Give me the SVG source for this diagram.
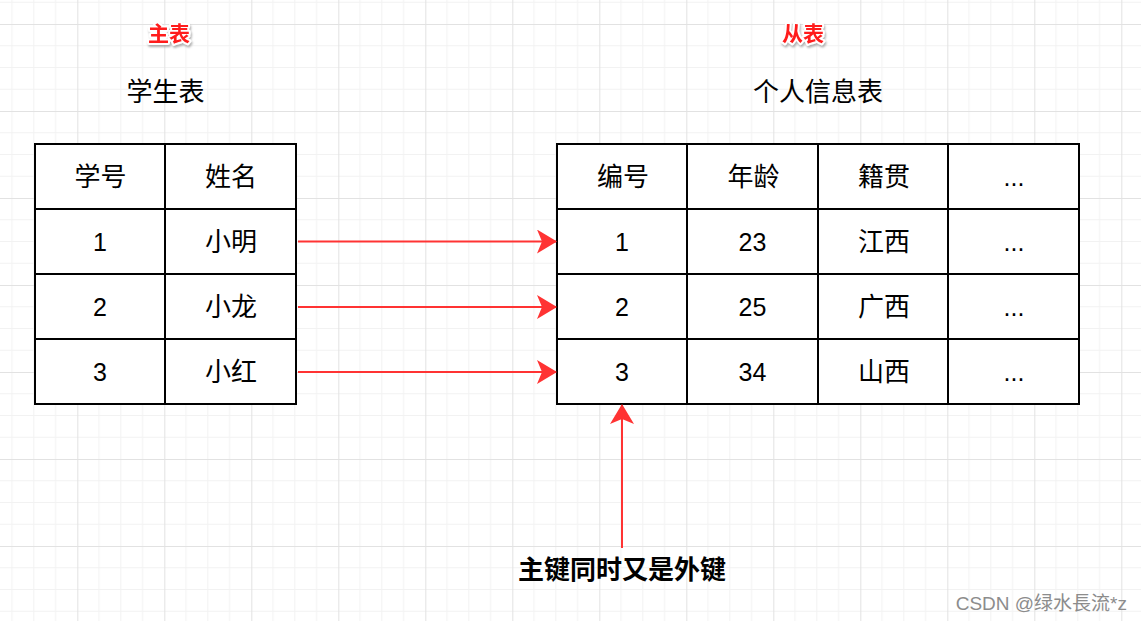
<svg xmlns="http://www.w3.org/2000/svg" width="1141" height="621" viewBox="0 0 1141 621">
<defs>
<pattern id="grid" x="77.3" y="24" width="87" height="87" patternUnits="userSpaceOnUse">
<path d="M21.75 0V87M43.5 0V87M65.25 0V87M0 21.75H87M0 43.5H87M0 65.25H87" stroke="#f2f2f2" stroke-width="1" fill="none"/>
<path d="M0.5 0V87M0 0.5H87" stroke="#e2e2e2" stroke-width="1" fill="none"/>
</pattern>
<marker id="ah" viewBox="0 0 20 24" refX="19" refY="12" markerWidth="20" markerHeight="24" markerUnits="userSpaceOnUse" orient="auto">
<path d="M0 0L20 12L0 24L5 12Z" fill="#ff3333"/>
</marker>
<filter id="sh" x="-20%" y="-20%" width="140%" height="160%">
<feDropShadow dx="1" dy="2" stdDeviation="0.8" flood-color="#999" flood-opacity="0.8"/>
</filter>
</defs>
<style>
text{font-family:"Liberation Sans","Noto Sans CJK SC",sans-serif;text-anchor:middle;dominant-baseline:central}
.cell{fill:#fff;stroke:#000;stroke-width:2}
.t{font-size:25px;fill:#000}
.h{font-size:26px;fill:#000}
.red{font-size:21px;font-weight:bold;fill:#ff1a1a;stroke:#fff;stroke-width:4;paint-order:stroke;stroke-linejoin:round}
.conn{stroke:#ff3333;stroke-width:2;fill:none;marker-end:url(#ah)}
</style>
<rect width="1141" height="621" fill="#fff"/>
<rect width="1141" height="621" fill="url(#grid)"/>

<g id="label-main"><text class="red" x="169" y="33" filter="url(#sh)">主表</text></g>
<g id="label-sub"><text class="red" x="803" y="33" filter="url(#sh)">从表</text></g>
<g id="title-student"><text class="h" x="165.5" y="92">学生表</text></g>
<g id="title-info"><text class="h" x="818" y="92">个人信息表</text></g>

<g id="student-table">
<rect class="cell" x="35" y="144" width="130" height="65"/>
<rect class="cell" x="165" y="144" width="131" height="65"/>
<rect class="cell" x="35" y="209" width="130" height="65"/>
<rect class="cell" x="165" y="209" width="131" height="65"/>
<rect class="cell" x="35" y="274" width="130" height="65"/>
<rect class="cell" x="165" y="274" width="131" height="65"/>
<rect class="cell" x="35" y="339" width="130" height="65"/>
<rect class="cell" x="165" y="339" width="131" height="65"/>
<text class="h" x="100.5" y="177">学号</text>
<text class="h" x="231" y="177">姓名</text>
<text class="t" x="100" y="242">1</text>
<text class="h" x="231" y="242">小明</text>
<text class="t" x="100" y="307">2</text>
<text class="h" x="231" y="307">小龙</text>
<text class="t" x="100" y="372">3</text>
<text class="h" x="231" y="372">小红</text>
</g>

<g id="info-table">
<rect class="cell" x="557" y="144" width="130" height="65"/>
<rect class="cell" x="687" y="144" width="131" height="65"/>
<rect class="cell" x="818" y="144" width="130" height="65"/>
<rect class="cell" x="948" y="144" width="131" height="65"/>
<rect class="cell" x="557" y="209" width="130" height="65"/>
<rect class="cell" x="687" y="209" width="131" height="65"/>
<rect class="cell" x="818" y="209" width="130" height="65"/>
<rect class="cell" x="948" y="209" width="131" height="65"/>
<rect class="cell" x="557" y="274" width="130" height="65"/>
<rect class="cell" x="687" y="274" width="131" height="65"/>
<rect class="cell" x="818" y="274" width="130" height="65"/>
<rect class="cell" x="948" y="274" width="131" height="65"/>
<rect class="cell" x="557" y="339" width="130" height="65"/>
<rect class="cell" x="687" y="339" width="131" height="65"/>
<rect class="cell" x="818" y="339" width="130" height="65"/>
<rect class="cell" x="948" y="339" width="131" height="65"/>
<text class="h" x="623" y="177">编号</text>
<text class="h" x="753.5" y="177">年龄</text>
<text class="h" x="884" y="177">籍贯</text>
<text class="t" x="1014" y="177">...</text>
<text class="t" x="622" y="242">1</text>
<text class="t" x="752.5" y="242">23</text>
<text class="h" x="884" y="242">江西</text>
<text class="t" x="1014" y="242">...</text>
<text class="t" x="622" y="307">2</text>
<text class="t" x="752.5" y="307">25</text>
<text class="h" x="884" y="307">广西</text>
<text class="t" x="1014" y="307">...</text>
<text class="t" x="622" y="372">3</text>
<text class="t" x="752.5" y="372">34</text>
<text class="h" x="884" y="372">山西</text>
<text class="t" x="1014" y="372">...</text>
</g>

<g id="connectors">
<path class="conn" d="M298 241.5H556"/>
<path class="conn" d="M298 307H556"/>
<path class="conn" d="M298 372H556"/>
<path class="conn" d="M622 548V405"/>
</g>

<g id="note"><text x="622" y="570" style="font-size:26px;font-weight:bold;fill:#000">主键同时又是外键</text></g>
<g id="watermark"><text x="1127" y="603" style="font-size:19px;fill:#8c8c8c;text-anchor:end">CSDN @绿水長流*z</text></g>
</svg>
